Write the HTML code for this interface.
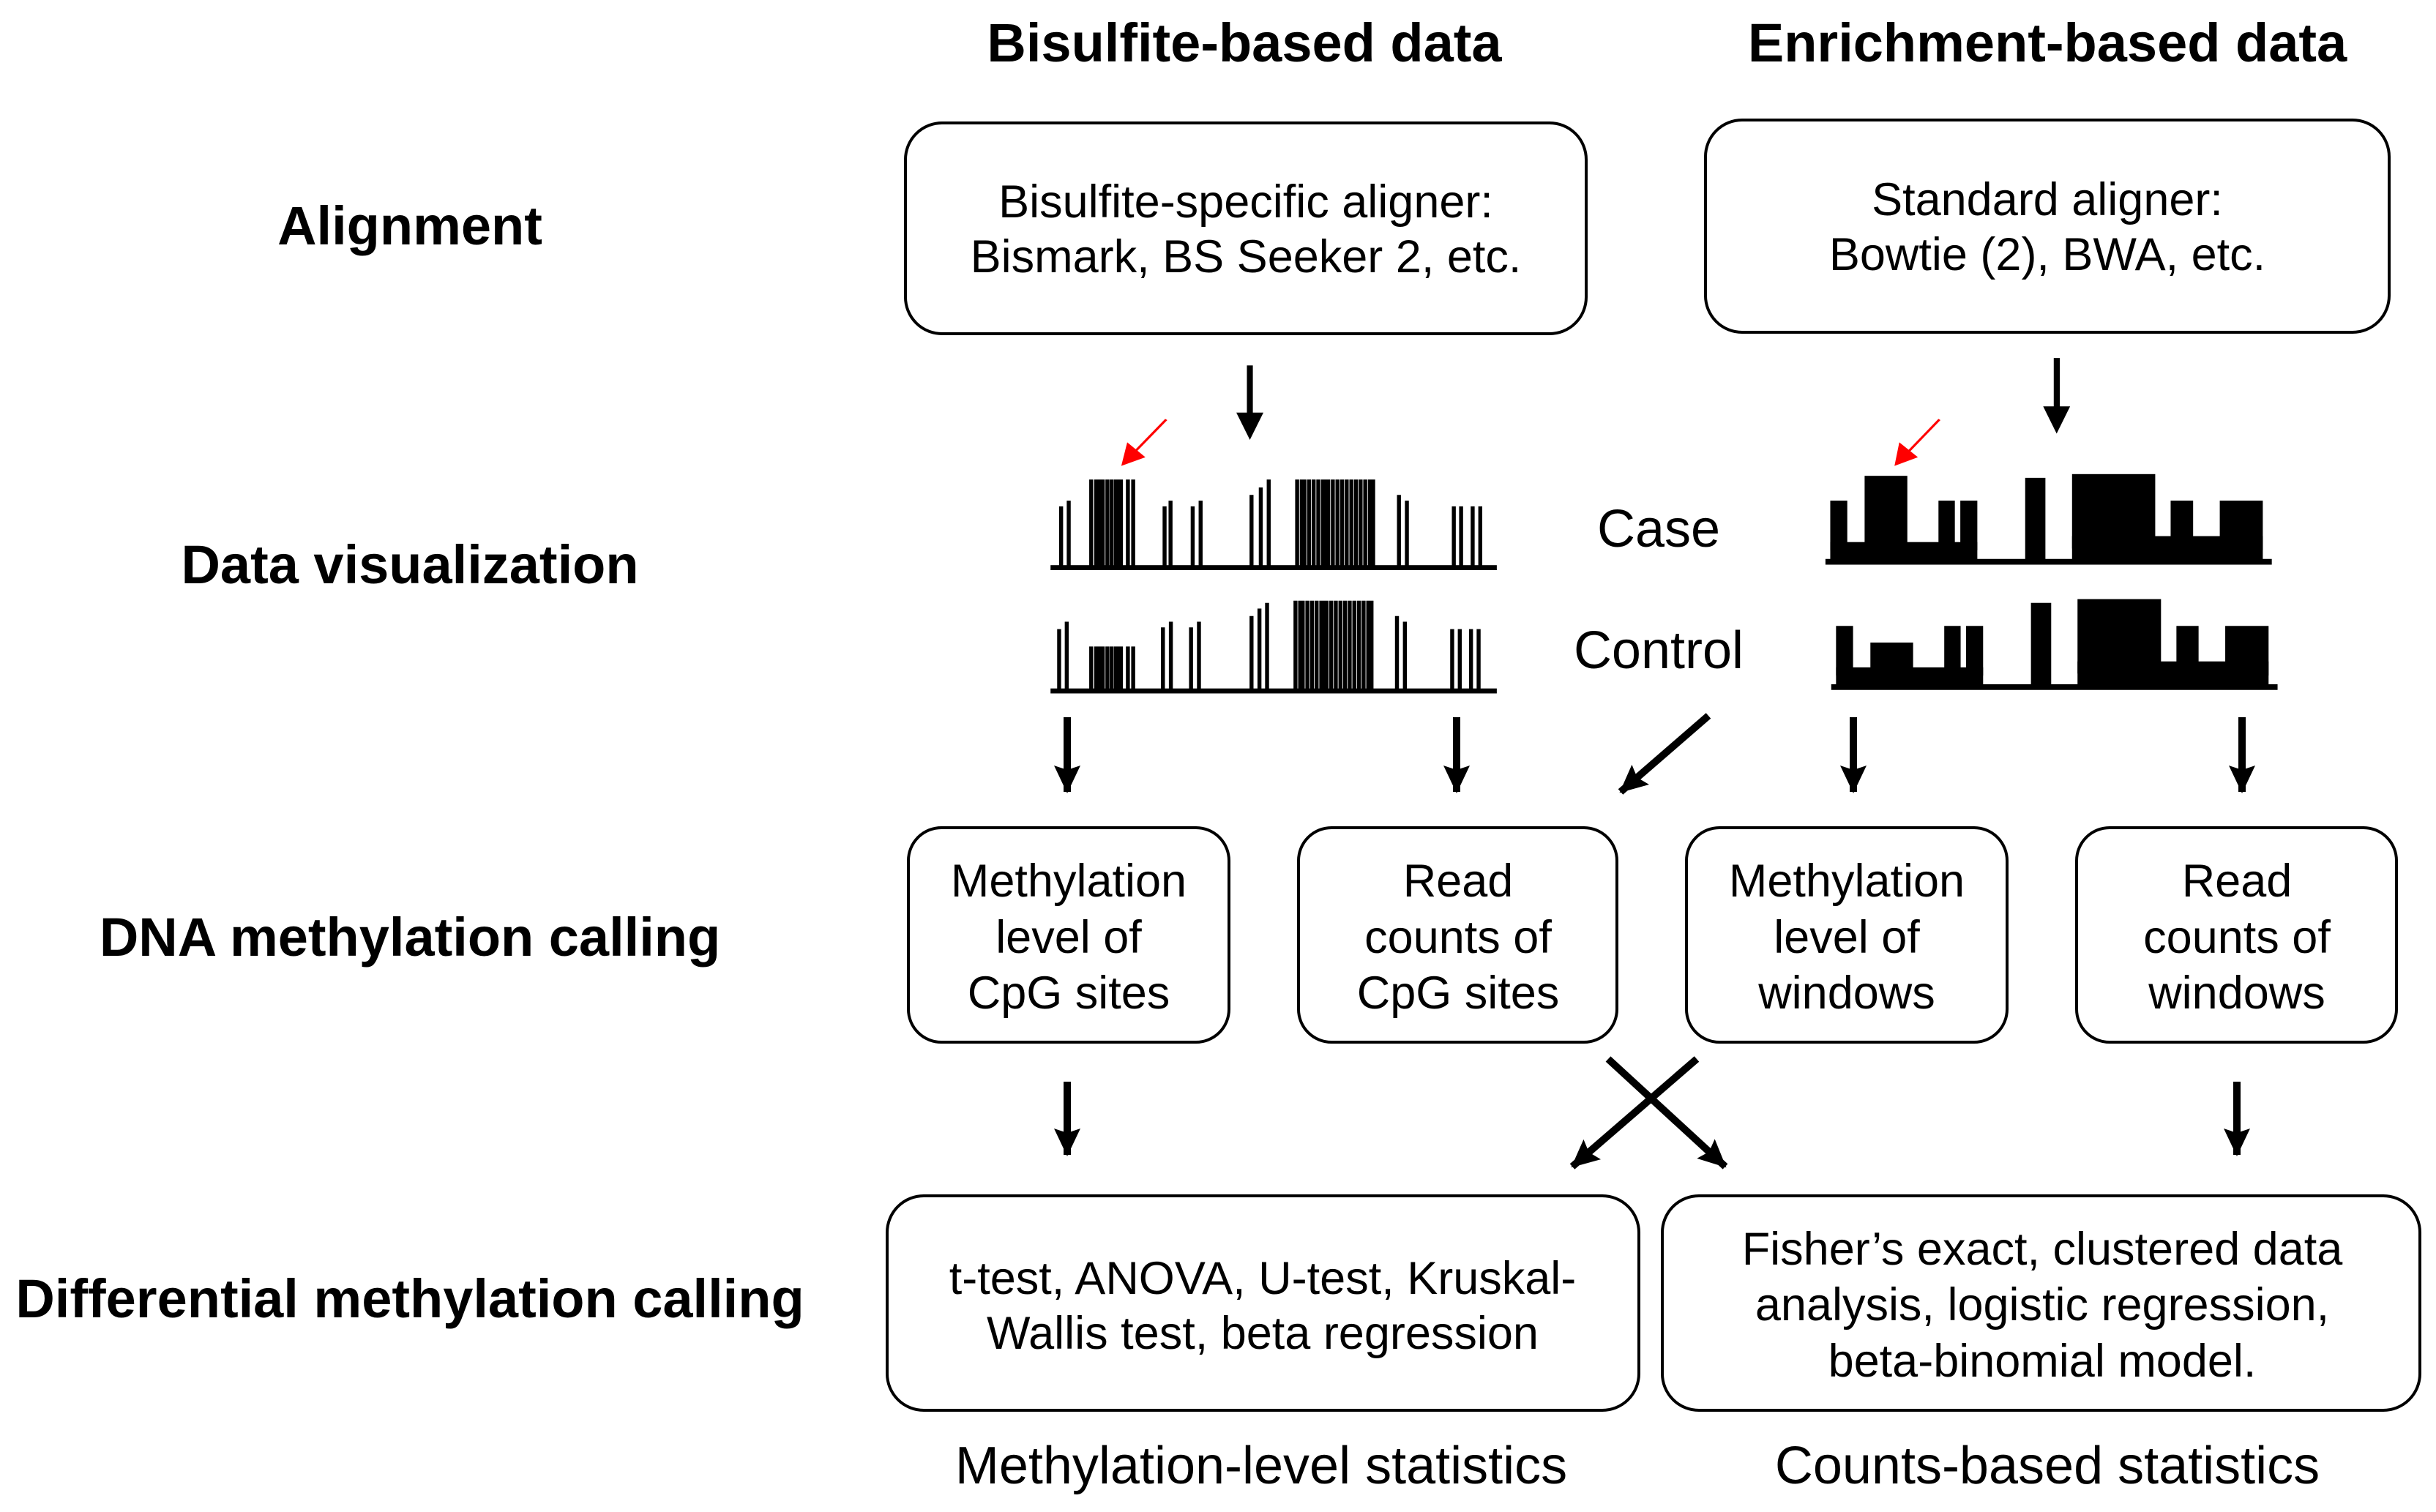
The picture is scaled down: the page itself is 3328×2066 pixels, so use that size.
<!DOCTYPE html>
<html><head><meta charset="utf-8"><style>
html,body{margin:0;padding:0;background:#fff;}
svg{display:block;}
text{font-family:"Liberation Sans",Arial,sans-serif;fill:#000;}
.b{font-weight:bold;font-size:74px;}
.t{font-size:63px;}
.l{font-size:72px;}
</style></head><body>
<svg width="3328" height="2066" viewBox="0 0 3328 2066" xmlns="http://www.w3.org/2000/svg">
<defs>
<marker id="ah" markerUnits="userSpaceOnUse" markerWidth="40" markerHeight="40" refX="36" refY="18" orient="auto"><path d="M0,0 L38,18 L0,36 L6,18 Z" fill="#000"/></marker>
</defs>
<text class="b" x="1700" y="84" text-anchor="middle">Bisulfite-based data</text>
<text class="b" x="2797" y="84" text-anchor="middle">Enrichment-based data</text>
<text class="b" x="560" y="334" text-anchor="middle">Alignment</text>
<text class="b" x="560" y="797" text-anchor="middle">Data visualization</text>
<text class="b" x="560" y="1306" text-anchor="middle">DNA methylation calling</text>
<text class="b" x="560" y="1800" text-anchor="middle">Differential methylation calling</text>
<g fill="none" stroke="#000" stroke-width="4">
<rect x="1237" y="168" width="930" height="288" rx="50"/>
<rect x="2330" y="164" width="934" height="290" rx="50"/>
<rect x="1241" y="1131" width="438" height="293" rx="45"/>
<rect x="1774" y="1131" width="435" height="293" rx="45"/>
<rect x="2304" y="1131" width="438" height="293" rx="45"/>
<rect x="2837" y="1131" width="437" height="293" rx="45"/>
<rect x="1212" y="1634" width="1027" height="293" rx="50"/>
<rect x="2271" y="1634" width="1035" height="293" rx="50"/>
</g>
<g class="t" text-anchor="middle">
<text x="1702" y="297">Bisulfite-specific aligner:</text>
<text x="1702" y="372">Bismark, BS Seeker 2, etc.</text>
<text x="2797" y="294">Standard aligner:</text>
<text x="2797" y="369">Bowtie (2), BWA, etc.</text>
<text x="1460" y="1225">Methylation</text><text x="1460" y="1302">level of</text><text x="1460" y="1378">CpG sites</text>
<text x="1992" y="1225">Read</text><text x="1992" y="1302">counts of</text><text x="1992" y="1378">CpG sites</text>
<text x="2523" y="1225">Methylation</text><text x="2523" y="1302">level of</text><text x="2523" y="1378">windows</text>
<text x="3056" y="1225">Read</text><text x="3056" y="1302">counts of</text><text x="3056" y="1378">windows</text>
<text x="1725" y="1768">t-test, ANOVA, U-test, Kruskal-</text>
<text x="1725" y="1843">Wallis test, beta regression</text>
<text x="2790" y="1728">Fisher’s exact, clustered data</text>
<text x="2790" y="1804">analysis, logistic regression,</text>
<text x="2790" y="1881">beta-binomial model.</text>
</g>
<text class="l" x="2266" y="747" text-anchor="middle">Case</text>
<text class="l" x="2266" y="913" text-anchor="middle">Control</text>
<text class="l" x="1723" y="2027" text-anchor="middle">Methylation-level statistics</text>
<text class="l" x="2797" y="2027" text-anchor="middle">Counts-based statistics</text>
<g stroke="#000" stroke-width="10" marker-end="url(#ah)">
<line x1="1458" y1="980" x2="1458" y2="1082"/>
<line x1="1990" y1="980" x2="1990" y2="1082"/>
<line x1="2334" y1="978" x2="2214" y2="1082"/>
<line x1="2532" y1="980" x2="2532" y2="1082"/>
<line x1="3063" y1="980" x2="3063" y2="1082"/>
<line x1="1458" y1="1478" x2="1458" y2="1578"/>
<line x1="2197" y1="1447" x2="2357" y2="1594"/>
<line x1="2318" y1="1447" x2="2148" y2="1594"/>
<line x1="3056" y1="1478" x2="3056" y2="1578"/>
</g>
<g transform="translate(1400,540) scale(0.4516,0.339)" fill="#000">
<rect x="78" y="685" width="1350" height="20"/>
<g stroke="#000" stroke-width="12">
<line x1="110" y1="690" x2="110" y2="448"/><line x1="133" y1="690" x2="133" y2="425"/>
<line x1="423" y1="690" x2="423" y2="448"/><line x1="441" y1="690" x2="441" y2="425"/>
<line x1="508" y1="690" x2="508" y2="448"/><line x1="532" y1="690" x2="532" y2="425"/>
<line x1="686" y1="690" x2="686" y2="402"/><line x1="714" y1="690" x2="714" y2="372"/><line x1="738" y1="690" x2="738" y2="340"/>
<line x1="1132" y1="690" x2="1132" y2="402"/><line x1="1156" y1="690" x2="1156" y2="425"/>
<line x1="1298" y1="690" x2="1298" y2="448"/><line x1="1320" y1="690" x2="1320" y2="448"/><line x1="1355" y1="690" x2="1355" y2="448"/><line x1="1378" y1="690" x2="1378" y2="448"/>
<path d="M201,690V340M216,690V340M224,690V340M236,690V340M250,690V340M263,690V340M276,690V340M283,690V340M291,690V340M312,690V340M328,690V340"/>
<path d="M824,690V340M838,690V340M846,690V340M860,690V340M874,690V340M888,690V340M902,690V340M910,690V340M918,690V340M932,690V340M946,690V340M960,690V340M974,690V340M988,690V340M1002,690V340M1016,690V340M1030,690V340M1044,690V340M1054,690V340"/>
<line x1="104" y1="1185" x2="104" y2="943"/><line x1="127" y1="1185" x2="127" y2="913"/>
<line x1="418" y1="1185" x2="418" y2="936"/><line x1="442" y1="1185" x2="442" y2="913"/>
<line x1="503" y1="1185" x2="503" y2="936"/><line x1="527" y1="1185" x2="527" y2="913"/>
<line x1="686" y1="1185" x2="686" y2="890"/><line x1="710" y1="1185" x2="710" y2="860"/><line x1="733" y1="1185" x2="733" y2="837"/>
<line x1="1126" y1="1185" x2="1126" y2="890"/><line x1="1150" y1="1185" x2="1150" y2="913"/>
<line x1="1293" y1="1185" x2="1293" y2="943"/><line x1="1316" y1="1185" x2="1316" y2="943"/><line x1="1350" y1="1185" x2="1350" y2="943"/><line x1="1373" y1="1185" x2="1373" y2="943"/>
<path d="M201,1185V1013M216,1185V1013M224,1185V1013M236,1185V1013M250,1185V1013M263,1185V1013M276,1185V1013M283,1185V1013M291,1185V1013M312,1185V1013M328,1185V1013"/>
<path d="M819,1185V828M833,1185V828M841,1185V828M855,1185V828M869,1185V828M883,1185V828M897,1185V828M905,1185V828M913,1185V828M927,1185V828M941,1185V828M955,1185V828M969,1185V828M983,1185V828M997,1185V828M1011,1185V828M1025,1185V828M1039,1185V828M1049,1185V828"/>
</g>
<rect x="78" y="1182" width="1350" height="20"/>
<line x1="428" y1="98" x2="330" y2="232" stroke="#f00" stroke-width="8"/>
<polygon points="292,285 310,190 365,250" fill="#f00"/>
<rect x="672" y="-120" width="18" height="200"/>
<polygon points="640,70 722,70 681,180"/>
</g>
<g transform="translate(2450,540) scale(0.4387,0.339)" fill="#000">
<rect x="100" y="660" width="1390" height="23"/>
<rect x="115" y="592" width="458" height="70"/>
<rect x="115" y="425" width="53" height="200"/>
<rect x="222" y="325" width="133" height="300"/>
<rect x="452" y="425" width="51" height="200"/>
<rect x="520" y="425" width="53" height="200"/>
<rect x="722" y="333" width="63" height="330"/>
<rect x="868" y="568" width="594" height="95"/>
<rect x="868" y="318" width="259" height="300"/>
<rect x="1175" y="425" width="70" height="200"/>
<rect x="1328" y="425" width="134" height="200"/>
<rect x="118" y="1165" width="1390" height="23"/>
<rect x="133" y="1097" width="458" height="70"/>
<rect x="133" y="930" width="53" height="200"/>
<rect x="240" y="997" width="133" height="150"/>
<rect x="470" y="930" width="51" height="200"/>
<rect x="538" y="930" width="53" height="200"/>
<rect x="740" y="837" width="63" height="330"/>
<rect x="885" y="1073" width="595" height="95"/>
<rect x="885" y="822" width="260" height="300"/>
<rect x="1193" y="930" width="69" height="200"/>
<rect x="1345" y="930" width="135" height="200"/>
<line x1="455" y1="98" x2="355" y2="232" stroke="#f00" stroke-width="8"/>
<polygon points="315,285 330,190 388,250" fill="#f00"/>
<rect x="811" y="-150" width="19" height="200"/>
<polygon points="778,45 862,45 820,155"/>
</g>
</svg>
</body></html>
